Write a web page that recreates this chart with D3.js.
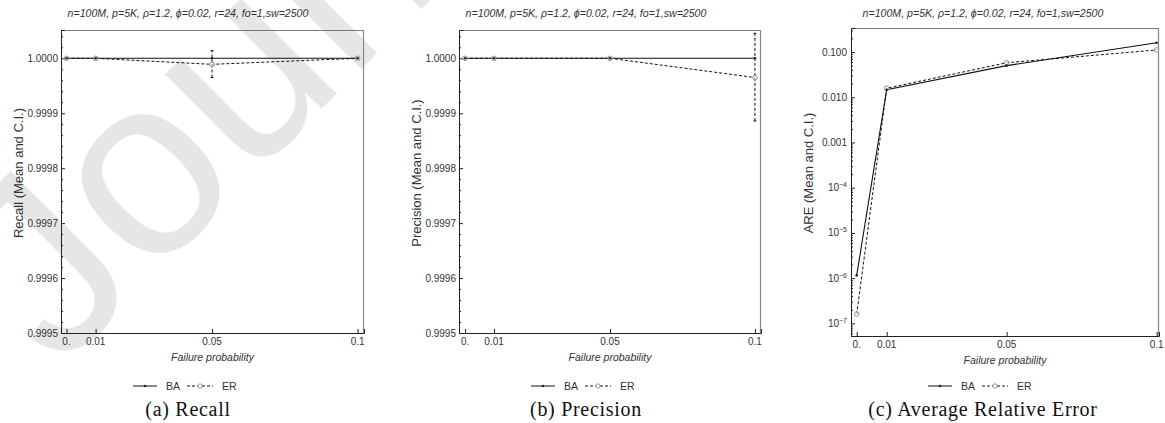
<!DOCTYPE html>
<html>
<head>
<meta charset="utf-8">
<script src="https://cdn.jsdelivr.net/npm/d3@7"></script>
<style>
  body { margin: 0; background: #fff; }
  svg { display: block; }
  text { font-family: "Liberation Sans", Arial, sans-serif; fill: #333; }
</style>
</head>
<body>
<div id="chart"></div>
<script>
// data
const failureProb = [0, 0.01, 0.05, 0.1];
const xTickValues = [0, 0.01, 0.05, 0.1];
const xTickLabels = ["0.", "0.01", "0.05", "0.1"];

const recallBA = [1, 1, 1, 1];
const recallER = [1, 1, 0.999989, 1];
const recallERLow = [null, null, 0.999965, null];
const recallERHigh = [null, null, 1.0000138, null];

const precisionBA = [1, 1, 1, 1];
const precisionER = [1, 1, 1, 0.999965];
const precisionERLow = [null, null, null, 0.999886];
const precisionERHigh = [null, null, null, 1.0000455];

const areBA = [1.15e-6, 0.0147, 0.050, 0.161];
const areER = [1.6e-7, 0.0158, 0.058, 0.111];

const linearTicks = [0.9995, 0.9996, 0.9997, 0.9998, 0.9999, 1.0];
const logTicks = [1e-7, 1e-6, 1e-5, 1e-4, 1e-3, 1e-2, 1e-1];
const logTickLabels = [["10", "-7"], ["10", "-6"], ["10", "-5"], ["10", "-4"], ["0.001"], ["0.010"], ["0.100"]];

const titleText = "n=100M, p=5K, \u03C1=1.2, \u03D5=0.02, r=24, fo=1,sw=2500";
const seriesNames = ["BA", "ER"];

const width = 1165;
const height = 423;

const svg = d3.select("#chart").append("svg")
    .attr("width", width)
    .attr("height", height);

// light watermark behind everything
svg.append("text")
    .attr("transform", "translate(58,372) rotate(-45)")
    .style("font-size", "255px")
    .style("fill", "#e6e6e6")
    .text("Journal");

const panels = [
    {
        left: 61, right: 364, top: 30, bottom: 333, cx: 188,
        xDomain: [-0.0019, 0.1022], type: "linear", yDomain: [0.9995, 1.0000515],
        ba: recallBA, er: recallER, lo: recallERLow, hi: recallERHigh,
        ylabel: "Recall (Mean and C.I.)", caption: "(a) Recall"
    },
    {
        left: 459, right: 761, top: 30, bottom: 333, cx: 586,
        xDomain: [-0.0021, 0.1021], type: "linear", yDomain: [0.9995, 1.0000515],
        ba: precisionBA, er: precisionER, lo: precisionERLow, hi: precisionERHigh,
        ylabel: "Precision (Mean and C.I.)", caption: "(b) Precision"
    },
    {
        left: 851, right: 1159, top: 28, bottom: 336, cx: 983,
        xDomain: [-0.0019, 0.1008], type: "log", yDomain: [Math.pow(10, -7.28), 0.34],
        ba: areBA, er: areER, lo: [null, null, null, null], hi: [null, null, null, null],
        ylabel: "ARE (Mean and C.I.)", caption: "(c) Average Relative Error"
    }
];

panels.forEach(function (p) {
    const g = svg.append("g");
    const x = d3.scaleLinear().domain(p.xDomain).range([p.left, p.right]);
    const y = (p.type === "log" ? d3.scaleLog() : d3.scaleLinear())
        .domain(p.yDomain).range([p.bottom, p.top]);

    // title
    g.append("text")
        .attr("x", p.cx).attr("y", 17)
        .attr("text-anchor", "middle")
        .style("font-size", "10.6px")
        .style("font-style", "italic")
        .text(titleText);

    // frame: top/right lighter
    g.append("line").attr("x1", p.left).attr("x2", p.right).attr("y1", p.top + 0.5).attr("y2", p.top + 0.5)
        .attr("stroke", "#777");
    g.append("line").attr("x1", p.right - 0.5).attr("x2", p.right - 0.5).attr("y1", p.top).attr("y2", p.bottom)
        .attr("stroke", "#888").attr("stroke-width", 1.2);

    // y axis (ticks point inward)
    let yAxis;
    if (p.type === "log") {
        const minor = [];
        for (let e = -8; e <= 0; e++) {
            for (let m = 2; m <= 9; m++) {
                const v = m * Math.pow(10, e);
                if (v > p.yDomain[0] && v < p.yDomain[1]) minor.push(v);
            }
        }
        g.append("g").attr("transform", `translate(${p.left},0)`)
            .call(d3.axisRight(y).tickValues(minor).tickSize(2).tickFormat(""))
            .call(a => a.select(".domain").remove())
            .selectAll("line").attr("stroke", "#222");
        yAxis = d3.axisRight(y).tickValues(logTicks).tickSize(4).tickFormat("");
    } else {
        const minor = d3.range(0, 28).map(i => +(0.9995 + i * 0.00002).toFixed(6))
            .filter(v => v < p.yDomain[1] && linearTicks.indexOf(v) < 0);
        g.append("g").attr("transform", `translate(${p.left},0)`)
            .call(d3.axisRight(y).tickValues(minor).tickSize(2).tickFormat(""))
            .call(a => a.select(".domain").remove())
            .selectAll("line").attr("stroke", "#222");
        yAxis = d3.axisRight(y).tickValues(linearTicks).tickSize(4).tickFormat("");
    }
    const ya = g.append("g").attr("transform", `translate(${p.left},0)`).call(yAxis);
    ya.select(".domain").attr("stroke", "#222");
    ya.selectAll("line").attr("stroke", "#222");

    // y tick labels
    if (p.type === "log") {
        logTicks.forEach(function (v, i) {
            const t = g.append("text")
                .attr("x", p.left - 4).attr("y", y(v) + 3.5)
                .attr("text-anchor", "end")
                .style("font-size", "10px");
            t.append("tspan").text(logTickLabels[i][0]);
            if (logTickLabels[i][1]) {
                t.append("tspan").attr("dy", -4).style("font-size", "7px").text("\u2212" + logTickLabels[i][1].slice(1));
            }
        });
    } else {
        linearTicks.forEach(function (v) {
            g.append("text")
                .attr("x", p.left - 3).attr("y", y(v) + 3.5)
                .attr("text-anchor", "end")
                .style("font-size", "10px")
                .text(d3.format(".4f")(v));
        });
    }

    // x axis (ticks up, inward)
    const xa = g.append("g").attr("transform", `translate(0,${p.bottom})`)
        .call(d3.axisTop(x).tickValues(xTickValues).tickSize(4).tickFormat(""));
    xa.select(".domain").attr("stroke", "#222");
    xa.selectAll("line").attr("stroke", "#222");
    xTickValues.forEach(function (v, i) {
        g.append("text")
            .attr("x", x(v)).attr("y", p.bottom + 12)
            .attr("text-anchor", "middle")
            .style("font-size", "10px")
            .text(xTickLabels[i]);
    });

    // axis labels
    g.append("text")
        .attr("x", (p.left + p.right) / 2).attr("y", p.bottom + 28)
        .attr("text-anchor", "middle")
        .style("font-size", "10.5px")
        .style("font-style", "italic")
        .text("Failure probability");
    g.append("text")
        .attr("transform", `translate(${p.left - 38},173) rotate(-90)`)
        .attr("text-anchor", "middle")
        .style("font-size", "13px")
        .text(p.ylabel);

    // series
    const line = d3.line().x((d, i) => x(failureProb[i])).y(d => y(d));
    g.append("path").datum(p.ba)
        .attr("d", line).attr("fill", "none")
        .attr("stroke", "#111").attr("stroke-width", 1.1);
    g.append("path").datum(p.er)
        .attr("d", line).attr("fill", "none")
        .attr("stroke", "#111").attr("stroke-width", 1)
        .attr("stroke-dasharray", "3,2");

    // error bars for ER
    p.er.forEach(function (v, i) {
        if (p.lo[i] == null) return;
        const xc = x(failureProb[i]);
        g.append("line").attr("x1", xc).attr("x2", xc)
            .attr("y1", y(p.lo[i])).attr("y2", y(p.hi[i]))
            .attr("stroke", "#111").attr("stroke-dasharray", "3,2");
        [p.lo[i], p.hi[i]].forEach(function (e) {
            g.append("line").attr("x1", xc - 1.5).attr("x2", xc + 1.5)
                .attr("y1", y(e)).attr("y2", y(e))
                .attr("stroke", "#111");
        });
    });

    g.selectAll("circle.er").data(p.er).enter().append("circle")
        .attr("class", "er")
        .attr("cx", (d, i) => x(failureProb[i])).attr("cy", d => y(d))
        .attr("r", 2.3).attr("fill", "#fff").attr("fill-opacity", 0.6)
        .attr("stroke", "#888").attr("stroke-width", 0.9);
    g.selectAll("circle.ba").data(p.ba).enter().append("circle")
        .attr("class", "ba")
        .attr("cx", (d, i) => x(failureProb[i])).attr("cy", d => y(d))
        .attr("r", 1.3).attr("fill", "#222");

    // legend
    const ly = 386;
    const lx = p.cx - 55;
    g.append("line").attr("x1", lx).attr("x2", lx + 24).attr("y1", ly).attr("y2", ly)
        .attr("stroke", "#111");
    g.append("circle").attr("cx", lx + 12).attr("cy", ly).attr("r", 1.3).attr("fill", "#222");
    g.append("text").attr("x", lx + 33).attr("y", ly + 3.8).style("font-size", "10.5px").text(seriesNames[0]);
    g.append("line").attr("x1", lx + 54).attr("x2", lx + 80).attr("y1", ly).attr("y2", ly)
        .attr("stroke", "#111").attr("stroke-dasharray", "3,2");
    g.append("circle").attr("cx", lx + 67).attr("cy", ly).attr("r", 2.2)
        .attr("fill", "#fff").attr("stroke", "#888").attr("stroke-width", 0.9);
    g.append("text").attr("x", lx + 89).attr("y", ly + 3.8).style("font-size", "10.5px").text(seriesNames[1]);

    // caption
    g.append("text")
        .attr("x", p.cx).attr("y", 416)
        .attr("text-anchor", "middle")
        .style("font-family", "'Liberation Serif', 'DejaVu Serif', serif")
        .style("font-size", "20px")
        .style("letter-spacing", "0.7px")
        .style("fill", "#111")
        .text(p.caption);
});
</script>
</body>
</html>
